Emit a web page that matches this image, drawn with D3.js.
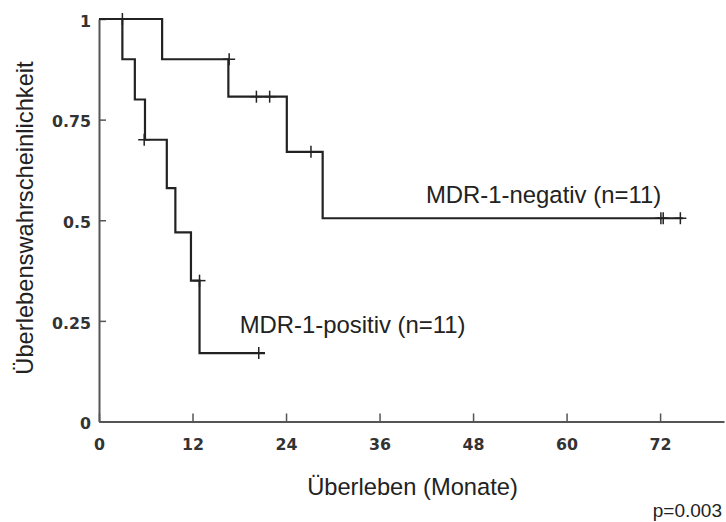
<!DOCTYPE html>
<html>
<head>
<meta charset="utf-8">
<script src="https://cdn.jsdelivr.net/npm/d3@7"></script>
<style>
  html, body { margin: 0; padding: 0; background: #fff; }
  svg { display: block; }
</style>
</head>
<body>
<svg id="chart" width="726" height="522"></svg>
<script>
// ---- data ----
const negTimes = [0, 8.1, 16.6, 24.1, 28.7];
const negSurv  = [1, 0.9, 0.807, 0.67, 0.505];
const negEnd   = 74.9;
const negCensorT = [3.0, 16.7, 20.2, 21.9, 27.2, 72.1, 72.4, 74.6];
const negCensorS = [1, 0.9, 0.807, 0.807, 0.67, 0.505, 0.505, 0.505];

const posTimes = [0, 3.0, 4.6, 5.9, 8.7, 9.8, 11.8, 12.9];
const posSurv  = [1, 0.9, 0.8, 0.7, 0.58, 0.47, 0.35, 0.17];
const posEnd   = 21.3;
const posCensorT = [5.8, 12.9, 20.5];
const posCensorS = [0.7, 0.35, 0.17];

const xTicks = [0, 12, 24, 36, 48, 60, 72];
const yTicks = [0, 0.25, 0.5, 0.75, 1];
const yTickLabels = ["0", "0.25", "0.5", "0.75", "1"];

const negLabel = "MDR-1-negativ (n=11)";
const posLabel = "MDR-1-positiv (n=11)";
const negLabelPos = [41.95, 0.543];
const posLabelPos = [18.05, 0.221];
const xTitle = "Überleben (Monate)";
const yTitle = "Überlebenswahrscheinlichkeit";
const pText = "p=0.003";

// ---- drawing ----
const svg = d3.select("#chart");
const x = d3.scaleLinear().domain([0, 80.2]).range([99, 724]);
const y = d3.scaleLinear().domain([0, 1]).range([421.5, 19]);

const axisColor = "#555";
const lineColor = "#222";

const yAxis = d3.axisLeft(y)
  .tickValues(yTicks)
  .tickFormat((d, i) => yTickLabels[i])
  .tickSizeInner(-7).tickSizeOuter(0).tickPadding(8);
const gy = svg.append("g").attr("transform", `translate(${x(0)},0)`).call(yAxis);

const xAxis = d3.axisBottom(x)
  .tickValues(xTicks)
  .tickFormat(d3.format("d"))
  .tickSizeInner(-8).tickSizeOuter(0).tickPadding(17);
const gx = svg.append("g").attr("transform", `translate(0,${y(0)})`).call(xAxis);

[gx, gy].forEach(g => {
  g.select(".domain").attr("stroke", axisColor).attr("stroke-width", 2);
  g.selectAll(".tick line").attr("stroke", axisColor).attr("stroke-width", 1.5);
  g.selectAll(".tick text")
    .attr("fill", "#333")
    .style("font-family", "'DejaVu Sans', sans-serif")
    .style("font-weight", "bold")
    .style("font-size", "15.8px");
});
gy.selectAll(".tick text").attr("dy", "0.45em");

const step = d3.line().curve(d3.curveStepAfter).x(d => x(d[0])).y(d => y(d[1]));

function curvePts(times, surv, end) {
  const pts = times.map((t, i) => [t, surv[i]]);
  pts.push([end, surv[surv.length - 1]]);
  return pts;
}

svg.append("path").datum(curvePts(negTimes, negSurv, negEnd))
  .attr("d", step).attr("fill", "none").attr("stroke", lineColor).attr("stroke-width", 2.2);
svg.append("path").datum(curvePts(posTimes, posSurv, posEnd))
  .attr("d", step).attr("fill", "none").attr("stroke", lineColor).attr("stroke-width", 2.2);

function censors(ts, ss) {
  const data = ts.map((t, i) => [t, ss[i]]);
  const g = svg.append("g").attr("stroke", lineColor).attr("stroke-width", 1.5);
  g.selectAll("line.v").data(data).join("line").attr("class", "v")
    .attr("x1", d => x(d[0])).attr("x2", d => x(d[0]))
    .attr("y1", d => y(d[1]) - 6).attr("y2", d => y(d[1]) + 6);
  g.selectAll("line.h").data(data).join("line").attr("class", "h")
    .attr("x1", d => x(d[0]) - 6).attr("x2", d => x(d[0]) + 6)
    .attr("y1", d => y(d[1])).attr("y2", d => y(d[1]));
}
censors(negCensorT, negCensorS);
censors(posCensorT, posCensorS);

const txtFont = "'Liberation Sans', Arial, sans-serif";
svg.append("text").attr("x", x(negLabelPos[0])).attr("y", y(negLabelPos[1]))
  .style("font-family", txtFont).style("font-size", "23.9px").attr("fill", lineColor).text(negLabel);
svg.append("text").attr("x", x(posLabelPos[0])).attr("y", y(posLabelPos[1]))
  .style("font-family", txtFont).style("font-size", "23.9px").attr("fill", lineColor).text(posLabel);

svg.append("text").attr("x", 412.5).attr("y", 495).attr("text-anchor", "middle")
  .style("font-family", txtFont).style("font-size", "23.7px").attr("fill", lineColor).text(xTitle);

svg.append("text").attr("transform", "translate(32.5,218) rotate(-90)").attr("text-anchor", "middle")
  .style("font-family", txtFont).style("font-size", "23.7px").attr("fill", lineColor).text(yTitle);

svg.append("text").attr("x", 722).attr("y", 517).attr("text-anchor", "end")
  .style("font-family", txtFont).style("font-size", "19px").attr("fill", lineColor).text(pText);
</script>
</body>
</html>
